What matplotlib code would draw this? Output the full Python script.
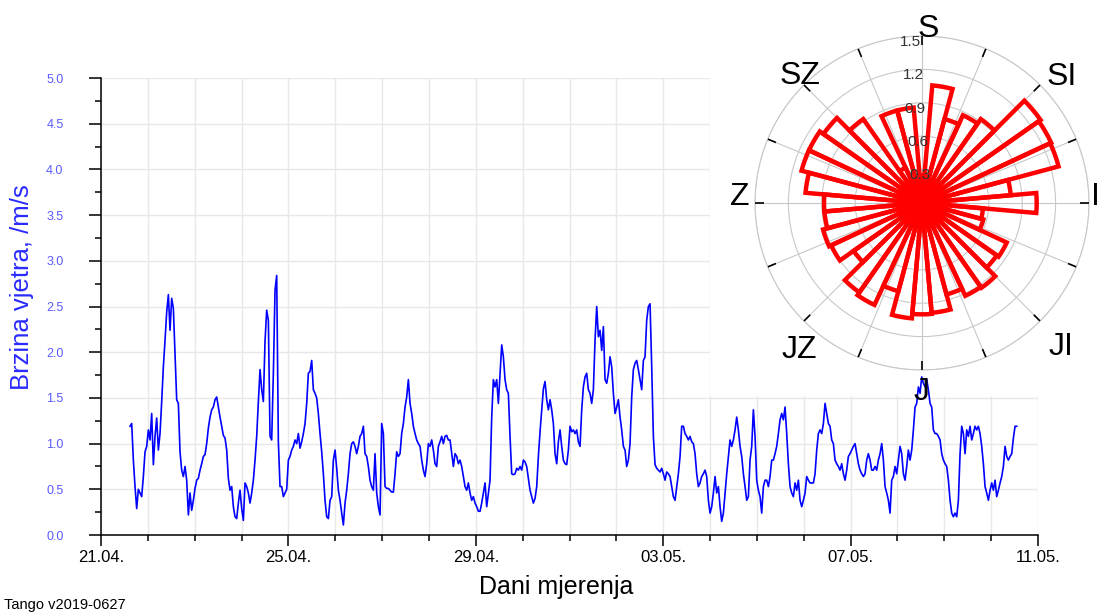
import matplotlib
matplotlib.use("Agg")
import matplotlib.pyplot as plt
import matplotlib.dates as mdates
import matplotlib.ticker as mticker
from matplotlib.patches import Rectangle
import numpy as np
import pandas as pd

plt.rcParams["font.family"] = ["Liberation Sans", "DejaVu Sans"]

# wind speed record (m/s), one reading every ~51 min, split into chunks
speed_a = [1.19, 1.22, 0.82, 0.53, 0.29, 0.50, 0.46, 0.42, 0.64, 0.91,
           0.97, 1.15, 1.04, 1.33, 0.77, 1.08, 1.28, 0.93, 1.11, 1.46,
           1.84, 2.13, 2.44, 2.63, 2.24, 2.59, 2.48, 1.99, 1.48, 1.44,
           0.91, 0.71, 0.64, 0.75, 0.60, 0.22, 0.46, 0.27, 0.38, 0.51,
           0.60, 0.62, 0.71, 0.78, 0.86, 0.88, 1.00, 1.17, 1.29, 1.37,
           1.40, 1.48, 1.51, 1.40, 1.29, 1.19, 1.09, 1.06, 0.93, 0.62,
           0.49, 0.53, 0.31, 0.20, 0.18, 0.35, 0.49, 0.29, 0.16, 0.57,
           0.53, 0.46, 0.35, 0.46, 0.60, 0.82, 1.08, 1.46, 1.81, 1.59,
           1.46, 2.12, 2.46, 2.35, 1.08, 1.04, 1.77, 2.68, 2.84, 1.02,
           0.53]
speed_b = [0.53, 0.42, 0.46, 0.50, 0.82, 0.86, 0.93, 0.97, 1.04, 1.00,
           1.11, 0.95, 1.02, 1.11, 1.22, 1.44, 1.77, 1.79, 1.91, 1.59,
           1.55, 1.50, 1.33, 1.11, 0.91, 0.67, 0.38, 0.20, 0.18, 0.38,
           0.42, 0.82, 0.93, 0.73, 0.49, 0.38, 0.24, 0.11, 0.35, 0.49,
           0.67, 0.89, 1.00, 1.02, 0.97, 0.89, 0.97, 1.08, 1.11, 1.19,
           0.89, 0.86, 0.75, 0.60, 0.53, 0.49, 0.89, 0.46, 0.31, 0.22,
           1.22, 1.11, 0.53, 0.51, 0.51, 0.49, 0.47, 0.47, 0.67, 0.91,
           0.86, 0.89, 1.11, 1.22, 1.40, 1.51, 1.70, 1.44, 1.33, 1.19,
           1.11, 1.04, 1.00, 0.97, 0.82, 0.71, 0.64, 0.78, 1.00, 0.97]
speed_c = [1.04, 0.93, 0.78, 0.75, 0.97, 1.02, 1.08, 1.00, 1.08, 1.09,
           1.04, 1.04, 0.89, 0.75, 0.89, 0.86, 0.78, 0.82, 0.75, 0.64,
           0.53, 0.49, 0.57, 0.46, 0.38, 0.42, 0.35, 0.31, 0.26, 0.26,
           0.35, 0.46, 0.57, 0.31, 0.46, 0.60, 1.29, 1.70, 1.62, 1.70,
           1.44, 1.77, 2.08, 1.95, 1.70, 1.59, 1.55, 1.08, 0.67, 0.66,
           0.67, 0.73, 0.71, 0.75, 0.71, 0.82, 0.80, 0.75, 0.62, 0.49,
           0.42, 0.35, 0.40, 0.53, 0.86, 1.13, 1.37, 1.60, 1.68, 1.48,
           1.37, 1.48, 1.37, 1.22, 0.89, 0.78, 1.02, 1.15, 0.97, 0.82,
           0.78, 0.77, 0.93, 1.19, 1.13, 1.15, 1.11, 1.15, 1.02, 0.97]
speed_d = [1.37, 1.62, 1.73, 1.77, 1.59, 1.55, 1.44, 1.59, 2.13, 2.50,
           2.17, 2.24, 2.02, 2.28, 1.70, 1.66, 1.77, 1.95, 1.84, 1.55,
           1.33, 1.40, 1.48, 1.29, 1.15, 0.97, 0.93, 0.75, 0.82, 1.00,
           1.51, 1.81, 1.88, 1.91, 1.81, 1.70, 1.59, 1.91, 1.95, 2.35,
           2.50, 2.53, 1.84, 1.08, 0.77, 0.73, 0.71, 0.69, 0.73, 0.67,
           0.60, 0.69, 0.67, 0.64, 0.53, 0.42, 0.38, 0.53, 0.67, 0.86,
           1.19, 1.19, 1.11, 1.08, 1.04, 1.08, 1.02, 1.00, 0.89, 0.67,
           0.53, 0.57, 0.64, 0.67, 0.71, 0.64, 0.38, 0.24, 0.31, 0.46,
           0.64, 0.46, 0.53, 0.31, 0.15, 0.24, 0.46, 0.67, 0.86, 1.04]
speed_e = [0.97, 1.04, 1.15, 1.29, 1.15, 0.97, 0.86, 0.67, 0.53, 0.38,
           0.42, 0.82, 0.97, 1.37, 1.08, 0.60, 0.49, 0.42, 0.24, 0.53,
           0.60, 0.60, 0.53, 0.64, 0.82, 0.82, 0.89, 0.97, 1.11, 1.26,
           1.33, 1.26, 1.40, 1.11, 0.78, 0.53, 0.46, 0.42, 0.57, 0.49,
           0.60, 0.38, 0.31, 0.38, 0.46, 0.64, 0.60, 0.57, 0.57, 0.57,
           0.67, 0.93, 1.11, 1.15, 1.11, 1.22, 1.44, 1.33, 1.22, 1.19,
           1.04, 1.00, 0.82, 0.78, 0.75, 0.71, 0.78, 0.67, 0.60, 0.71,
           0.86, 0.89, 0.93, 0.97, 1.00, 0.89, 0.78, 0.71, 0.67, 0.64,
           0.67, 0.82, 0.89, 0.82, 0.71, 0.71, 0.75, 0.71, 0.82, 0.89]
speed_f = [1.00, 0.82, 0.53, 0.46, 0.38, 0.24, 0.60, 0.64, 0.75, 0.67,
           0.82, 0.97, 0.89, 0.67, 0.60, 0.75, 0.93, 0.82, 0.93, 1.15,
           1.40, 1.44, 1.62, 1.55, 1.73, 1.66, 1.62, 1.70, 1.59, 1.44,
           1.40, 1.15, 1.11, 1.11, 1.08, 1.04, 0.89, 0.82, 0.78, 0.75,
           0.60, 0.38, 0.24, 0.20, 0.24, 0.20, 0.38, 0.89, 1.19, 1.11,
           0.89, 1.15, 1.08, 1.19, 1.04, 1.11, 1.19, 1.15, 1.19, 1.11,
           0.97, 0.78, 0.53, 0.46, 0.38, 0.49, 0.57, 0.49, 0.60, 0.42,
           0.49, 0.57, 0.64, 0.75, 0.97, 0.86, 0.82, 0.86, 0.89, 1.06,
           1.19, 1.19]
speed = np.array(speed_a + speed_b + speed_c + speed_d + speed_e + speed_f)
times = pd.date_range("2019-04-21 14:51", "2019-05-10 13:05", periods=len(speed))

# wind rose: mean speed per 10 degree sector, clockwise from north
rose_dirs = np.arange(0, 360, 10)
rose_speed = [0.25, 1.06, 0.78, 0.87, 0.92, 1.30, 1.28, 1.27, 0.80, 1.03,
              0.55, 0.57, 0.84, 0.82, 0.93, 0.92, 0.85, 0.99, 1.00, 1.04,
              0.82, 1.01, 0.98, 0.75, 0.90, 0.92, 0.88, 0.88, 1.05, 1.12,
              1.12, 1.08, 0.92, 0.35, 0.86, 0.86]
rose_rings = [0.3, 0.6, 0.9, 1.2, 1.5]
compass = ["S", "SI", "I", "JI", "J", "JZ", "Z", "SZ"]
compass_pos = [(2, 1.56), (48, 1.69), (88, 1.56), (136, 1.80),
               (180, 1.70), (220, 1.72), (272, 1.64), (316, 1.58)]

day_major = mdates.date2num(pd.date_range("2019-04-21", "2019-05-11", freq="4D"))
day_minor = mdates.date2num(pd.date_range("2019-04-21", "2019-05-11", freq="1D"))

fig = plt.figure(figsize=(11.03, 6.13), dpi=100)
ax = fig.add_axes([0.0916, 0.1272, 0.8495, 0.7455])
ax.set_axisbelow(True)

ax.xaxis.set_major_locator(mticker.FixedLocator(day_major))
ax.xaxis.set_minor_locator(mticker.FixedLocator(day_minor))
ax.xaxis.set_major_formatter(mdates.DateFormatter("%d.%m."))
ax.set_yticks(np.arange(0, 5.01, 0.5))
ax.set_yticks(np.arange(0.25, 5.0, 0.5), minor=True)
ax.yaxis.set_major_formatter(mticker.FormatStrFormatter("%.1f"))

ax.grid(axis="x", which="both", color="#e8e8e8", lw=1)
ax.grid(axis="y", which="major", color="#e8e8e8", lw=1)

# blank corner under the wind rose
x0 = mdates.date2num(pd.Timestamp("2019-05-04"))
ax.add_patch(Rectangle((x0, 1.52), 10, 4, facecolor="white", edgecolor="none", zorder=1))

ax.plot(times, speed, color="#0000ff", lw=1.2, zorder=2)
ax.set_xlim(pd.Timestamp("2019-04-21"), pd.Timestamp("2019-05-11"))
ax.set_ylim(0, 5)

for s in ("top", "right"):
    ax.spines[s].set_visible(False)
for s in ("left", "bottom"):
    ax.spines[s].set_linewidth(1.1)

ax.tick_params(axis="x", which="major", direction="out", length=8, width=1.1, labelsize=12, pad=3)
ax.tick_params(axis="x", which="minor", direction="out", length=4, width=1.1)
ax.tick_params(axis="y", which="major", direction="out", length=9, width=1.1, labelsize=9,
               labelcolor="#5a5aff", pad=18)
ax.tick_params(axis="y", which="minor", direction="out", length=4, width=1.1)

ax.set_ylabel("Brzina vjetra, /m/s", fontsize=18.5, color="#2a2aff")
ax.yaxis.set_label_coords(-0.072, 0.543)
ax.set_xlabel("Dani mjerenja", fontsize=18)
ax.xaxis.set_label_coords(0.486, -0.088)

fig.text(0.004, 0.006, "Tango v2019-0627", fontsize=10.5)

# wind rose inset
pax = fig.add_axes([0.6845, 0.3964, 0.3028, 0.5449], projection="polar")
pax.set_facecolor("white")
pax.set_theta_zero_location("N")
pax.set_theta_direction(-1)
pax.bar(np.deg2rad(rose_dirs), rose_speed, width=np.deg2rad(10), fill=False,
        edgecolor="red", linewidth=3.2, zorder=3)
pax.fill_between(np.linspace(0, 2 * np.pi, 120), 0, 0.17, color="red", zorder=3)
pax.set_ylim(0, 1.5)
pax.set_yticks(rose_rings)
pax.set_yticklabels([])
spokes = np.deg2rad(np.arange(0, 360, 22.5))
pax.set_xticks(spokes)
pax.set_xticklabels([])
pax.tick_params(length=0)
pax.grid(color="#c8c8c8", lw=0.8)
pax.spines["polar"].set_color("#c8c8c8")
pax.spines["polar"].set_linewidth(0.8)

for th in spokes:
    pax.plot([th, th], [1.42, 1.5], color="black", lw=1.2, solid_capstyle="butt", zorder=4)

for r in rose_rings:
    pax.text(np.deg2rad(-4), r - 0.05, f"{r:.1f}", ha="center", va="center",
             fontsize=11, color="#333333", zorder=5)

for name, (deg, r) in zip(compass, compass_pos):
    pax.text(np.deg2rad(deg), r, name, ha="center", va="center", fontsize=23, zorder=5)

fig.savefig("out.png", dpi=100)
